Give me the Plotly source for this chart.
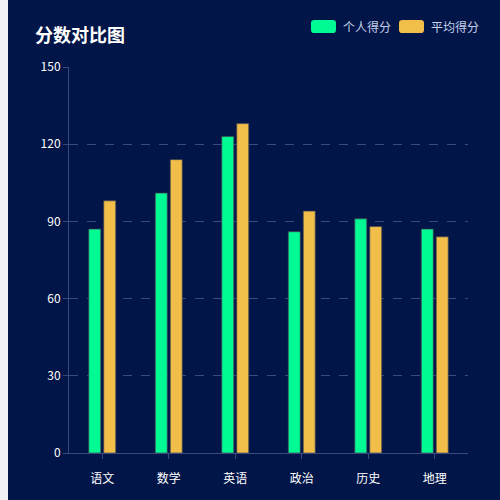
import plotly.graph_objects as go

# Score data
subjects = ["语文", "数学", "英语", "政治", "历史", "地理"]
personal_scores = [87, 101, 123, 86, 91, 87]
average_scores = [98, 114, 128, 94, 88, 84]
y_ticks = [0, 30, 60, 90, 120, 150]

bg_color = "#021548"
axis_color = "#3a4a7c"
green = "#00FA94"
orange = "#F2BE4A"
font_family = "Noto Sans CJK SC, Microsoft YaHei, sans-serif"

fig = go.Figure()

fig.add_trace(
    go.Bar(
        name="个人得分",
        x=subjects,
        y=personal_scores,
        marker=dict(color=green, line=dict(color="rgba(70,70,80,0.7)", width=1)),
    )
)
fig.add_trace(
    go.Bar(
        name="平均得分",
        x=subjects,
        y=average_scores,
        marker=dict(color=orange, line=dict(color="rgba(70,70,80,0.7)", width=1)),
    )
)


def rounded_rect(x0, y0, x1, y1, r):
    return (
        f"M{x0 + r},{y0} L{x1 - r},{y0} Q{x1},{y0} {x1},{y0 + r} "
        f"L{x1},{y1 - r} Q{x1},{y1} {x1 - r},{y1} L{x0 + r},{y1} "
        f"Q{x0},{y1} {x0},{y1 - r} L{x0},{y0 + r} Q{x0},{y0} {x0 + r},{y0} Z"
    )


# plot area in pixels, used to place the title and the hand-drawn legend
plot_l, plot_r, plot_t, plot_b = 69, 468, 67, 453


def px(x):
    return (x - plot_l) / (plot_r - plot_l)


def py(y):
    return (plot_b - y) / (plot_b - plot_t)


shapes = [
    # light strip on the left edge
    dict(type="rect", xref="paper", yref="paper", x0=px(0), x1=px(8), y0=py(500), y1=py(0),
         fillcolor="#eef1f6", line_width=0, layer="below"),
]
annotations = [
    dict(text="<b>分数对比图</b>", xref="paper", yref="paper", x=px(33), y=py(34),
         xanchor="left", yanchor="middle", showarrow=False,
         font=dict(size=18, color="white", family=font_family)),
]

legend_items = [("个人得分", green, 311), ("平均得分", orange, 399)]
for label, color, x0 in legend_items:
    shapes.append(
        dict(type="path", xref="paper", yref="paper",
             path=rounded_rect(px(x0), py(33), px(x0 + 25), py(20), 0.008),
             fillcolor=color, line_width=0)
    )
    annotations.append(
        dict(text=label, xref="paper", yref="paper", x=px(x0 + 30), y=py(26.5),
             xanchor="left", yanchor="middle", showarrow=False,
             font=dict(size=12, color="#c3d0ea", family=font_family))
    )

fig.update_layout(
    width=500,
    height=500,
    barmode="group",
    bargap=0.55,
    bargroupgap=0.2,
    showlegend=False,
    paper_bgcolor=bg_color,
    plot_bgcolor=bg_color,
    margin=dict(l=plot_l, r=500 - plot_r, t=plot_t, b=500 - plot_b),
    font=dict(family=font_family, size=12, color="white"),
    shapes=shapes,
    annotations=annotations,
    xaxis=dict(
        showline=True,
        linecolor=axis_color,
        linewidth=1,
        ticks="outside",
        ticklen=5,
        tickcolor=axis_color,
        ticklabelstandoff=10,
        showgrid=False,
        tickfont=dict(size=12, color="white"),
    ),
    yaxis=dict(
        range=[0, 150],
        tickvals=y_ticks,
        showline=True,
        linecolor=axis_color,
        linewidth=1,
        ticks="outside",
        ticklen=5,
        tickcolor=axis_color,
        showgrid=True,
        gridcolor=axis_color,
        griddash="dash",
        zeroline=False,
        tickfont=dict(size=12, color="white"),
    ),
)

# drop the default page margin so the 500x500 figure fills the window
fig.write_html(
    "out.html",
    config={"displayModeBar": False},
    post_script="document.body.style.margin='0';document.body.style.overflow='hidden';",
)
